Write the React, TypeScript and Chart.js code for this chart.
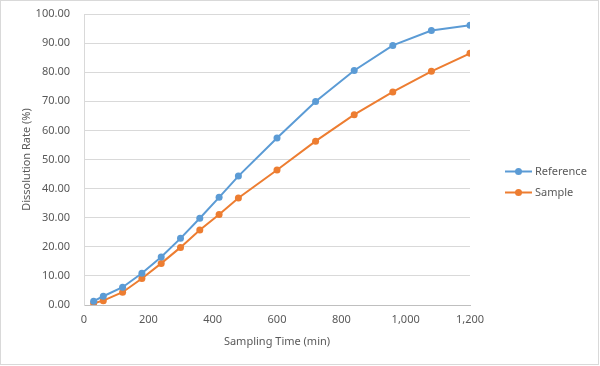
import React, { useEffect, useRef } from "react";
import { Chart, registerables } from "chart.js";

Chart.register(...registerables);

const times = [30, 60, 120, 180, 240, 300, 360, 420, 480, 600, 720, 840, 960, 1080, 1200];
const referenceValues = [1.3, 3.0, 6.1, 10.9, 16.5, 22.9, 29.8, 37.0, 44.3, 57.4, 69.9, 80.6, 89.2, 94.3, 96.1];
const sampleValues = [0.6, 1.5, 4.4, 9.1, 14.3, 19.8, 25.8, 31.1, 36.8, 46.4, 56.3, 65.4, 73.2, 80.3, 86.5];
const seriesNames = ["Reference", "Sample"];
const seriesColors = ["#5B9BD5", "#ED7D31"];
const xTitle = "Sampling Time (min)";
const yTitle = "Dissolution Rate (%)";

const FONT = "'Noto Sans', 'Liberation Sans', sans-serif";
const TEXT = "#595959";

const framePlugin = {
  id: "frame",
  beforeDraw(chart: any) {
    const { ctx, width, height } = chart;
    ctx.save();
    ctx.fillStyle = "#ffffff";
    ctx.fillRect(0, 0, width, height);
    ctx.strokeStyle = "#d9d9d9";
    ctx.lineWidth = 1;
    ctx.strokeRect(0.5, 0.5, width - 2, height - 2);
    ctx.restore();
  },
};

const legendPlugin = {
  id: "customLegend",
  afterDraw(chart: any) {
    const { ctx } = chart;
    const x0 = 505;
    const ys = [171.5, 192.5];
    ctx.save();
    chart.data.datasets.forEach((ds: any, i: number) => {
      const y = ys[i];
      ctx.strokeStyle = ds.borderColor;
      ctx.lineWidth = 2;
      ctx.beginPath();
      ctx.moveTo(x0, y);
      ctx.lineTo(x0 + 27, y);
      ctx.stroke();
      ctx.fillStyle = ds.borderColor;
      ctx.beginPath();
      ctx.arc(x0 + 13.5, y, 3.5, 0, Math.PI * 2);
      ctx.fill();
      ctx.fillStyle = TEXT;
      ctx.font = `11px ${FONT}`;
      ctx.textBaseline = "middle";
      ctx.textAlign = "left";
      ctx.fillText(ds.label, x0 + 30, y);
    });
    ctx.restore();
  },
};

export default function App() {
  const ref = useRef<HTMLCanvasElement>(null);
  useEffect(() => {
    document.body.style.margin = "0";
    const mk = (vals: number[], i: number) => ({
      label: seriesNames[i],
      data: times.map((t, k) => ({ x: t, y: vals[k] })),
      borderColor: seriesColors[i],
      backgroundColor: seriesColors[i],
      borderWidth: 2,
      pointRadius: 3.5,
      pointHoverRadius: 3.5,
      pointBorderWidth: 0,
      showLine: true,
      tension: 0,
    });
    const chart = new Chart(ref.current!, {
      type: "scatter",
      data: { datasets: [mk(referenceValues, 0), mk(sampleValues, 1)] },
      options: {
        animation: false,
        responsive: false,
        layout: { padding: { top: 14, right: 130, left: 0, bottom: 0 } },
        plugins: { legend: { display: false }, tooltip: { enabled: false } },
        scales: {
          x: {
            type: "linear",
            min: 0,
            max: 1200,
            afterFit: (s: any) => { s.height = 61; },
            ticks: {
              stepSize: 200,
              color: TEXT,
              font: { family: FONT, size: 11 },
              padding: 8,
              maxRotation: 0,
              callback: (v: any) => Number(v).toLocaleString("en-US"),
            },
            grid: { display: false, drawTicks: false },
            border: { display: true, color: "#bfbfbf", width: 1 },
            title: {
              display: true,
              text: xTitle,
              color: TEXT,
              font: { family: FONT, size: 11 },
              padding: { top: 18, bottom: 18 },
            },
          },
          y: {
            min: 0,
            max: 100,
            afterFit: (s: any) => { s.width = 84; s.paddingTop = 0; s.paddingBottom = 0; },
            ticks: {
              stepSize: 10,
              color: TEXT,
              font: { family: FONT, size: 11 },
              padding: 14,
              callback: (v: any) => Number(v).toFixed(2),
            },
            grid: { color: "#d9d9d9", drawTicks: false },
            border: { display: true, color: "#d9d9d9", width: 1 },
            title: {
              display: true,
              text: yTitle,
              color: TEXT,
              font: { family: FONT, size: 11 },
              padding: { top: 20, bottom: 20 },
            },
          },
        },
      },
      plugins: [framePlugin, legendPlugin],
    });
    return () => chart.destroy();
  }, []);
  return (
    <div style={{ width: 600, height: 366 }}>
      <canvas ref={ref} width={600} height={366} />
    </div>
  );
}
